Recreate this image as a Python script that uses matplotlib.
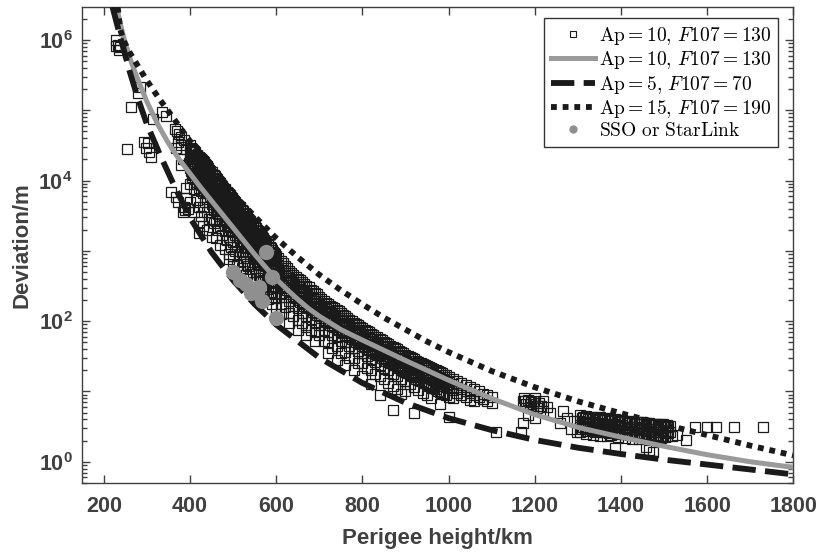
import numpy as np
import matplotlib
matplotlib.use("Agg")
import matplotlib.pyplot as plt
from matplotlib.lines import Line2D
from matplotlib.ticker import LogLocator, NullFormatter, FixedLocator

plt.rcParams['font.family'] = ['Liberation Sans', 'DejaVu Sans']
plt.rcParams['font.weight'] = 'bold'
plt.rcParams['axes.labelweight'] = 'bold'
plt.rcParams['mathtext.fontset'] = 'custom'
plt.rcParams['mathtext.rm'] = 'Liberation Sans:bold'
plt.rcParams['mathtext.bf'] = 'Liberation Sans:bold'
plt.rcParams['mathtext.it'] = 'Liberation Sans:italic:bold'

# ---------------- data (perigee height in km, deviation as log10 of metres) ----------------
# model curves
h_mid = [230, 240, 250, 265, 280, 300, 325, 350, 375, 400, 425, 450, 475, 500, 525, 550,
         575, 600, 625, 650, 675, 700, 750, 800, 900, 1000, 1100, 1200, 1300, 1400, 1500,
         1600, 1700, 1800]
lg_mid = [6.47, 6.18, 5.95, 5.66, 5.42, 5.12, 4.80, 4.53, 4.30, 4.10, 3.90, 3.71, 3.52,
          3.33, 3.14, 2.95, 2.77, 2.60, 2.45, 2.31, 2.18, 2.07, 1.88, 1.73, 1.44, 1.16,
          0.90, 0.67, 0.49, 0.35, 0.22, 0.10, 0.00, -0.08]

h_low = [220, 240, 260, 280, 300, 330, 360, 400, 450, 500, 550, 600, 700, 800, 900, 1000,
         1100, 1200, 1300, 1400, 1500, 1600, 1700, 1800]
lg_low = [6.47, 6.00, 5.55, 5.15, 4.80, 4.37, 3.97, 3.47, 2.98, 2.58, 2.24, 1.95, 1.48,
          1.12, 0.84, 0.62, 0.45, 0.31, 0.20, 0.11, 0.03, -0.04, -0.11, -0.18]

h_high = [232, 238, 245, 260, 280, 300, 330, 360, 390, 420, 460, 500, 550, 600, 650, 700,
          750, 800, 850, 900, 950, 1000, 1100, 1200, 1300, 1400, 1500, 1600, 1700, 1800]
lg_high = [6.47, 6.15, 6.00, 5.82, 5.62, 5.42, 5.15, 4.90, 4.64, 4.40, 4.09, 3.81, 3.49,
           3.18, 2.91, 2.66, 2.44, 2.24, 2.05, 1.88, 1.71, 1.56, 1.29, 1.06, 0.86, 0.69,
           0.53, 0.38, 0.23, 0.09]

# SSO / StarLink objects
sso_h = [500, 515, 531, 542, 560, 566, 576, 591, 600]
sso_lg = [2.70, 2.58, 2.53, 2.40, 2.49, 2.28, 2.98, 2.63, 2.04]

# observed objects, sparse part below 400 km and beyond 1510 km
sparse_h = [227, 229, 232, 235, 237, 254, 264, 280, 283, 294, 298, 302, 305, 310, 314, 336,
            345, 356, 364, 368, 368, 370, 372, 372, 375, 378, 380, 380, 383, 384, 385, 387,
            389, 390, 391, 391, 395, 398, 1518, 1530, 1551, 1571, 1599, 1621, 1662, 1730]
sparse_lg = [5.92, 6.00, 5.93, 5.86, 5.90, 4.45, 5.05, 5.25, 5.33, 4.55, 4.47, 4.53, 4.40,
             4.34, 4.88, 4.98, 4.92, 3.84, 4.74, 4.46, 3.77, 4.70, 3.70, 4.55, 4.66, 4.50,
             4.62, 4.22, 4.30, 3.55, 4.58, 3.63, 3.58, 4.45, 3.89, 3.75, 3.60, 4.25, 0.36,
             0.38, 0.31, 0.50, 0.50, 0.50, 0.50, 0.50]

# observed objects, dense band 400-700 km
band_400 = [
    (400, [4.50, 4.40, 4.28, 4.18, 3.95, 3.70]),
    (405, [4.45, 4.33, 4.22, 4.05]),
    (410, [4.42, 4.31, 4.20, 4.10, 3.88, 3.55]),
    (415, [4.37, 4.26, 4.12, 3.98, 3.72]),
    (420, [4.34, 4.25, 4.14, 4.02, 3.90, 3.62, 3.41, 3.25]),
    (425, [4.30, 4.19, 4.08, 3.85, 3.50]),
    (430, [4.28, 4.18, 4.06, 3.97, 3.82, 3.63, 3.35]),
    (435, [4.24, 4.12, 4.00, 3.90, 3.70]),
    (440, [4.20, 4.10, 3.98, 3.88, 3.74, 3.55, 3.30]),
    (445, [4.15, 4.05, 3.95, 3.82, 3.62, 3.45]),
    (450, [4.12, 4.02, 3.91, 3.80, 3.66, 3.46, 3.20]),
    (455, [4.08, 3.97, 3.86, 3.75, 3.58, 3.40]),
    (460, [4.04, 3.94, 3.83, 3.72, 3.60, 3.42, 3.18]),
    (465, [4.00, 3.90, 3.78, 3.68, 3.52, 3.30]),
    (470, [3.96, 3.86, 3.75, 3.64, 3.50, 3.35, 3.08]),
    (475, [3.92, 3.82, 3.70, 3.58, 3.45, 3.22]),
    (480, [3.88, 3.78, 3.66, 3.56, 3.44, 3.28, 3.02]),
    (485, [3.84, 3.74, 3.63, 3.50, 3.36, 3.15]),
    (490, [3.81, 3.70, 3.59, 3.48, 3.36, 3.20, 2.95, 2.89]),
    (495, [3.77, 3.66, 3.55, 3.42, 3.28, 3.05]),
    (500, [3.73, 3.63, 3.52, 3.40, 3.30, 3.12, 2.92, 2.78]),
    (505, [3.69, 3.58, 3.47, 3.35, 3.22, 3.00]),
    (510, [3.65, 3.55, 3.44, 3.33, 3.22, 3.05, 2.80]),
    (515, [3.62, 3.51, 3.40, 3.28, 3.14, 2.95, 2.70]),
    (520, [3.58, 3.47, 3.36, 3.25, 3.12, 2.98, 2.75]),
    (525, [3.54, 3.43, 3.32, 3.20, 3.05, 2.85]),
    (530, [3.50, 3.39, 3.28, 3.17, 3.05, 2.90, 2.65]),
    (535, [3.46, 3.35, 3.24, 3.12, 2.98, 2.78]),
    (540, [3.42, 3.31, 3.20, 3.09, 2.96, 2.82, 2.60]),
    (545, [3.38, 3.27, 3.16, 3.04, 2.90, 2.70]),
    (550, [3.34, 3.23, 3.12, 3.01, 2.88, 2.75, 2.55]),
    (555, [3.30, 3.19, 3.08, 2.96, 2.82, 2.62]),
    (560, [3.26, 3.15, 3.04, 2.93, 2.80, 2.66, 2.48]),
    (565, [3.22, 3.11, 3.00, 2.88, 2.72, 2.55]),
    (570, [3.18, 3.07, 2.96, 2.85, 2.72, 2.58, 2.40]),
    (575, [3.14, 3.03, 2.92, 2.80, 2.65, 2.48]),
    (580, [3.10, 2.99, 2.88, 2.76, 2.64, 2.50, 2.32]),
    (585, [3.06, 2.95, 2.83, 2.71, 2.57, 2.40]),
    (590, [3.01, 2.91, 2.80, 2.68, 2.55, 2.42, 2.25]),
    (595, [2.97, 2.87, 2.75, 2.63, 2.50, 2.34]),
    (600, [2.93, 2.83, 2.72, 2.60, 2.47, 2.33, 2.18]),
    (610, [2.86, 2.76, 2.65, 2.53, 2.40, 2.25, 2.10]),
    (620, [2.79, 2.69, 2.58, 2.47, 2.34, 2.20]),
    (630, [2.72, 2.62, 2.52, 2.41, 2.28, 2.12, 1.98]),
    (640, [2.66, 2.56, 2.46, 2.35, 2.22, 2.08]),
    (650, [2.60, 2.50, 2.40, 2.30, 2.18, 2.02, 1.88]),
    (660, [2.55, 2.45, 2.35, 2.25, 2.12, 1.98]),
    (670, [2.50, 2.40, 2.30, 2.20, 2.08, 1.92, 1.80]),
    (680, [2.45, 2.35, 2.26, 2.16, 2.03, 1.88]),
    (690, [2.40, 2.31, 2.21, 2.11, 1.98, 1.84, 1.72]),
    (700, [2.35, 2.26, 2.17, 2.07, 1.95, 1.80]),
]

# the dark upper half of the same band (overlapping objects)
band_400_top = [
    (402, [4.46, 4.36, 4.24, 4.14]), (407, [4.43, 4.30, 4.18, 4.08]),
    (412, [4.40, 4.28, 4.16, 4.04]), (417, [4.35, 4.23, 4.10, 3.95]),
    (422, [4.32, 4.21, 4.10, 3.98]), (427, [4.29, 4.16, 4.04, 3.93]),
    (432, [4.26, 4.14, 4.02, 3.90]), (437, [4.22, 4.10, 3.98, 3.86]),
    (442, [4.18, 4.07, 3.95, 3.83]), (447, [4.14, 4.03, 3.92, 3.78]),
    (452, [4.10, 4.00, 3.88, 3.76]), (457, [4.06, 3.95, 3.84, 3.72]),
    (462, [4.02, 3.92, 3.80, 3.68]), (467, [3.98, 3.88, 3.76, 3.64]),
    (472, [3.94, 3.84, 3.72, 3.60]), (477, [3.90, 3.80, 3.68, 3.56]),
    (482, [3.86, 3.76, 3.64, 3.52]), (487, [3.82, 3.72, 3.60, 3.48]),
    (492, [3.79, 3.68, 3.57, 3.45]), (497, [3.75, 3.64, 3.53, 3.40]),
    (502, [3.71, 3.60, 3.49, 3.37]), (507, [3.67, 3.56, 3.45, 3.33]),
    (512, [3.63, 3.53, 3.42, 3.30]), (517, [3.60, 3.49, 3.38, 3.26]),
    (522, [3.56, 3.45, 3.34, 3.22]), (527, [3.52, 3.41, 3.30, 3.18]),
    (532, [3.48, 3.37, 3.26, 3.14]), (537, [3.44, 3.33, 3.22, 3.10]),
    (542, [3.40, 3.29, 3.18, 3.06]), (547, [3.36, 3.25, 3.14, 3.02]),
    (552, [3.32, 3.21, 3.10, 2.98]), (557, [3.28, 3.17, 3.06, 2.94]),
    (562, [3.24, 3.13, 3.02, 2.90]), (567, [3.20, 3.09, 2.98, 2.86]),
    (572, [3.16, 3.05, 2.94, 2.82]), (577, [3.12, 3.01, 2.90, 2.78]),
    (582, [3.08, 2.97, 2.86, 2.74]), (587, [3.04, 2.93, 2.81, 2.69]),
    (592, [2.99, 2.89, 2.78, 2.66]), (597, [2.95, 2.85, 2.73, 2.61]),
    (605, [2.90, 2.80, 2.69, 2.57]), (615, [2.83, 2.73, 2.62, 2.50]),
    (625, [2.76, 2.66, 2.55, 2.44]), (635, [2.69, 2.59, 2.49, 2.38]),
    (645, [2.63, 2.53, 2.43, 2.33]), (655, [2.58, 2.48, 2.38, 2.27]),
    (665, [2.53, 2.43, 2.33, 2.22]), (675, [2.48, 2.38, 2.28, 2.18]),
    (685, [2.43, 2.33, 2.24, 2.13]), (695, [2.38, 2.28, 2.19, 2.09]),
]

# dense band 700-1100 km
band_700 = [
    (710, [2.28, 2.19, 2.10, 2.00, 1.88, 1.72]),
    (720, [2.24, 2.15, 2.06, 1.97, 1.85, 1.70, 1.55]),
    (730, [2.20, 2.11, 2.02, 1.93, 1.80, 1.62]),
    (740, [2.16, 2.07, 1.98, 1.89, 1.78, 1.64, 1.45]),
    (750, [2.11, 2.02, 1.94, 1.85, 1.72, 1.55]),
    (760, [2.07, 1.98, 1.90, 1.81, 1.70, 1.56, 1.38]),
    (770, [2.02, 1.94, 1.86, 1.77, 1.65, 1.48]),
    (780, [1.98, 1.90, 1.82, 1.73, 1.62, 1.47, 1.30]),
    (790, [1.94, 1.86, 1.78, 1.69, 1.57, 1.40]),
    (800, [1.90, 1.82, 1.74, 1.65, 1.54, 1.40, 1.22]),
    (810, [1.86, 1.78, 1.70, 1.61, 1.50, 1.33]),
    (820, [1.82, 1.74, 1.66, 1.57, 1.46, 1.30, 1.10]),
    (830, [1.78, 1.70, 1.62, 1.53, 1.42, 1.25]),
    (840, [1.75, 1.67, 1.59, 1.50, 1.38, 1.22, 0.95]),
    (850, [1.71, 1.63, 1.55, 1.46, 1.34, 1.18]),
    (860, [1.67, 1.59, 1.51, 1.42, 1.30, 1.12]),
    (870, [1.63, 1.55, 1.47, 1.38, 1.25, 1.08, 0.74]),
    (880, [1.60, 1.52, 1.44, 1.35, 1.22, 1.04]),
    (890, [1.56, 1.48, 1.40, 1.31, 1.18, 0.97]),
    (900, [1.52, 1.44, 1.36, 1.27, 1.15, 1.00]),
    (910, [1.49, 1.41, 1.33, 1.24, 1.10]),
    (920, [1.46, 1.38, 1.30, 1.20, 1.06, 0.69]),
    (930, [1.42, 1.34, 1.26, 1.16, 1.02]),
    (940, [1.39, 1.31, 1.23, 1.13, 0.98]),
    (950, [1.36, 1.28, 1.20, 1.10, 0.95]),
    (960, [1.33, 1.25, 1.17, 1.06, 0.90]),
    (970, [1.30, 1.22, 1.14, 1.03]),
    (980, [1.27, 1.19, 1.11, 0.99, 0.82]),
    (990, [1.24, 1.16, 1.08, 0.96]),
    (1000, [1.21, 1.13, 1.05, 0.92, 0.64]),
    (1010, [1.18, 1.10, 1.02, 0.90]),
    (1020, [1.15, 1.07, 0.98]),
    (1030, [1.12, 1.04, 0.95]),
    (1040, [1.09, 1.01, 0.92]),
    (1050, [1.06, 0.98, 0.88]),
    (1060, [1.03, 0.95, 0.86]),
    (1070, [1.00, 0.92]),
    (1080, [0.97, 0.89]),
    (1090, [0.95, 0.86]),
    (1100, [0.92, 0.84]),
    (1111, [0.43]),
]

band_700_top = [
    (705, [2.31, 2.22, 2.13, 2.04]), (715, [2.26, 2.17, 2.08, 1.99]),
    (725, [2.22, 2.13, 2.04, 1.95]), (735, [2.18, 2.09, 2.00, 1.91]),
    (745, [2.14, 2.05, 1.96, 1.87]), (755, [2.09, 2.00, 1.92, 1.83]),
    (765, [2.05, 1.96, 1.88, 1.79]), (775, [2.00, 1.92, 1.84, 1.75]),
    (785, [1.96, 1.88, 1.80, 1.71]), (795, [1.92, 1.84, 1.76, 1.67]),
    (805, [1.88, 1.80, 1.72, 1.63]), (815, [1.84, 1.76, 1.68, 1.59]),
    (825, [1.80, 1.72, 1.64, 1.55]), (835, [1.77, 1.69, 1.61, 1.52]),
    (845, [1.73, 1.65, 1.57, 1.48]), (855, [1.69, 1.61, 1.53, 1.44]),
    (865, [1.65, 1.57, 1.49, 1.40]), (875, [1.62, 1.54, 1.46, 1.37]),
    (885, [1.58, 1.50, 1.42, 1.33]), (895, [1.54, 1.46, 1.38, 1.29]),
    (905, [1.51, 1.43, 1.35, 1.26]), (915, [1.47, 1.39, 1.31, 1.22]),
    (925, [1.44, 1.36, 1.28, 1.18]), (935, [1.41, 1.33, 1.25, 1.15]),
    (945, [1.38, 1.30, 1.22, 1.12]), (955, [1.35, 1.27, 1.19, 1.08]),
    (965, [1.32, 1.24, 1.16, 1.05]), (975, [1.29, 1.21, 1.13, 1.01]),
    (985, [1.26, 1.18, 1.10, 0.98]), (995, [1.23, 1.15, 1.07, 0.95]),
]

# band 1150-1520 km
band_1150 = [
    (1169, [0.43]), (1172, [0.86]), (1173, [0.55]), (1176, [0.90]), (1180, [0.82]),
    (1184, [0.88]), (1185, [0.66]), (1188, [0.78]), (1192, [0.85]), (1196, [0.80]),
    (1200, [0.90, 0.62]), (1205, [0.76]), (1210, [0.84]), (1215, [0.80]), (1220, [0.72]),
    (1228, [0.78]), (1235, [0.70]), (1258, [0.55]), (1265, [0.72]), (1275, [0.62]),
    (1283, [0.47]), (1290, [0.58]), (1297, [0.43]),
    (1305, [0.66, 0.58, 0.50, 0.42]),
    (1312, [0.64, 0.56, 0.49]),
    (1320, [0.65, 0.57, 0.48, 0.40]),
    (1328, [0.63, 0.55, 0.46]),
    (1336, [0.64, 0.56, 0.47, 0.38]),
    (1344, [0.62, 0.54, 0.45]),
    (1352, [0.63, 0.55, 0.46, 0.37]),
    (1360, [0.61, 0.53, 0.44]),
    (1368, [0.62, 0.54, 0.45, 0.36]),
    (1376, [0.60, 0.52, 0.43, 0.38]),
    (1386, [0.61, 0.53, 0.44, 0.19]),
    (1394, [0.59, 0.51, 0.42, 0.35]),
    (1402, [0.60, 0.52, 0.43]),
    (1410, [0.58, 0.50, 0.41, 0.34]),
    (1418, [0.58, 0.50, 0.42]),
    (1426, [0.57, 0.49, 0.40, 0.33]),
    (1434, [0.57, 0.49, 0.41]),
    (1442, [0.56, 0.48, 0.39, 0.32]),
    (1450, [0.56, 0.48, 0.40]),
    (1458, [0.55, 0.47, 0.38, 0.21]),
    (1466, [0.55, 0.47, 0.39, 0.16]),
    (1474, [0.54, 0.46, 0.37, 0.14]),
    (1482, [0.54, 0.46, 0.38]),
    (1490, [0.53, 0.45, 0.36]),
    (1498, [0.53, 0.44, 0.37]),
    (1506, [0.52, 0.44, 0.36]),
    (1514, [0.51, 0.43]),
]

band_1150_top = [
    (1178, [0.86]), (1190, [0.82]), (1198, [0.86]), (1208, [0.80]), (1218, [0.86]),
    (1309, [0.62, 0.54, 0.46]), (1316, [0.63, 0.55, 0.47]), (1324, [0.61, 0.53, 0.44]),
    (1332, [0.62, 0.54, 0.45]), (1340, [0.60, 0.52, 0.43]), (1348, [0.61, 0.53, 0.44]),
    (1356, [0.59, 0.51, 0.42]), (1364, [0.60, 0.52, 0.43]), (1372, [0.58, 0.50, 0.41]),
    (1380, [0.59, 0.51, 0.42]), (1390, [0.57, 0.49, 0.40]), (1398, [0.58, 0.50, 0.41]),
    (1406, [0.56, 0.48, 0.39]), (1414, [0.56, 0.47, 0.39]), (1422, [0.55, 0.47, 0.38]),
    (1430, [0.55, 0.46, 0.38]), (1438, [0.54, 0.46, 0.37]), (1446, [0.54, 0.45, 0.37]),
    (1454, [0.53, 0.45, 0.36]), (1462, [0.53, 0.44, 0.36]), (1470, [0.52, 0.44, 0.35]),
    (1478, [0.52, 0.43, 0.35]), (1486, [0.51, 0.43, 0.34]), (1494, [0.51, 0.42, 0.34]),
    (1502, [0.50, 0.42, 0.35]), (1510, [0.49, 0.41]),
]

# ---------------- assemble observed points ----------------
obs_h = list(sparse_h)
obs_lg = list(sparse_lg)
for rows in (band_400, band_400_top, band_700, band_700_top, band_1150, band_1150_top):
    for h, vals in rows:
        obs_h += [h] * len(vals)
        obs_lg += vals

obs_h = np.array(obs_h, dtype=float)
obs_dev = 10.0 ** np.array(obs_lg)

# ---------------- plot ----------------
gray_line = '#9a9a9a'
gray_dot = '#8f8f8f'
txt_col = '#404040'
ink = '#1a1a1a'

fig = plt.figure(figsize=(8.2, 5.53), dpi=100)
ax = fig.add_axes([0.1004, 0.126, 0.867, 0.862])

ax.plot(obs_h, obs_dev, 's', ms=7, mfc='none', mec=ink, mew=0.9, zorder=2)
ax.plot(h_mid, 10.0 ** np.array(lg_mid), '-', color=gray_line, lw=3.6, zorder=3)
ax.plot(h_low, 10.0 ** np.array(lg_low), '-', color=ink, lw=4.2,
        dashes=(4, 1.6), dash_capstyle='butt', zorder=4)
ax.plot(h_high, 10.0 ** np.array(lg_high), '-', color=ink, lw=4.2,
        dashes=(1, 1), dash_capstyle='butt', zorder=4)
ax.plot(sso_h, 10.0 ** np.array(sso_lg), 'o', ms=11, color=gray_dot, mec='none', zorder=5)

ax.set_yscale('log')
ax.set_xlim(150, 1800)
ax.set_ylim(10 ** -0.307, 10 ** 6.474)

ax.set_xticks(range(200, 1801, 200))
ax.yaxis.set_major_locator(FixedLocator([10.0 ** k for k in range(0, 7)]))
ax.set_yticklabels(['$10^{0}$', '', '$10^{2}$', '', '$10^{4}$', '', '$10^{6}$'])
ax.yaxis.set_minor_locator(LogLocator(base=10, subs=np.arange(2, 10), numticks=20))
ax.yaxis.set_minor_formatter(NullFormatter())

ax.tick_params(which='both', direction='in', top=True, right=True, colors=txt_col,
               width=1.0)
ax.tick_params(which='major', length=6, labelsize=15.5)
ax.tick_params(which='minor', length=3.5)
ax.tick_params(axis='x', pad=9)
ax.tick_params(axis='y', pad=7)
for lab in ax.get_xticklabels() + ax.get_yticklabels():
    lab.set_fontweight('bold')
for sp in ax.spines.values():
    sp.set_color(txt_col)
    sp.set_linewidth(1.0)

ax.set_xlabel('Perigee height/km', fontsize=16, fontweight='bold', color=txt_col,
              labelpad=8)
ax.set_ylabel('Deviation/m', fontsize=16, fontweight='bold', color=txt_col, labelpad=4)

handles = [
    Line2D([], [], ls='none', marker='s', ms=5, mfc='none', mec=ink, mew=0.8),
    Line2D([], [], color=gray_line, lw=3.6),
    Line2D([], [], color=ink, lw=4.2, dashes=(4, 1.6), dash_capstyle='butt'),
    Line2D([], [], color=ink, lw=4.2, dashes=(1, 1), dash_capstyle='butt'),
    Line2D([], [], ls='none', marker='o', ms=6, color=gray_dot, mec='none'),
]
labels = [
    r'$\mathrm{Ap}=10,\,F107=130$',
    r'$\mathrm{Ap}=10,\,F107=130$',
    r'$\mathrm{Ap}=5,\,F107=70$',
    r'$\mathrm{Ap}=15,\,F107=190$',
    r'$\mathrm{SSO\ or\ StarLink}$',
]
leg = ax.legend(handles, labels, loc='upper right', bbox_to_anchor=(0.979, 0.976),
                borderaxespad=0, fontsize=14, handlelength=2.3, handletextpad=0.2,
                labelspacing=0.12, borderpad=0.35, fancybox=False, framealpha=1)
leg.get_frame().set_edgecolor('#333333')
leg.get_frame().set_linewidth(1.0)
for t in leg.get_texts():
    t.set_math_fontfamily('cm')
    t.set_fontweight('normal')
    t.set_color('black')

fig.savefig('out.png', dpi=100)
